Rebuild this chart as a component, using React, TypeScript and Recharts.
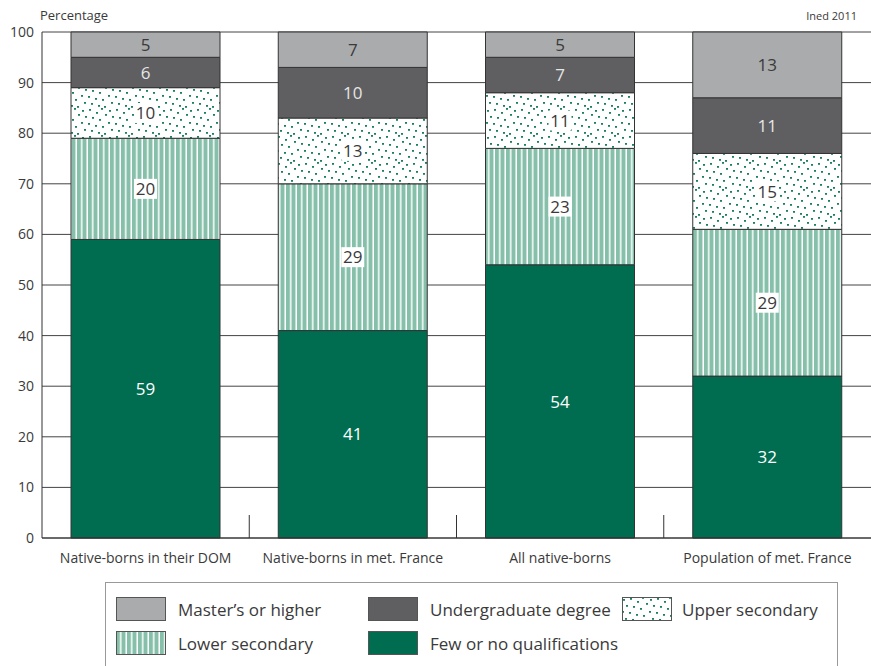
import React from 'react';
import { BarChart, Bar, XAxis, YAxis, CartesianGrid, LabelList } from 'recharts';

const categories = ['Native-borns in their DOM', 'Native-borns in met. France', 'All native-borns', 'Population of met. France'];
const fewOrNone = [59, 41, 54, 32];
const lowerSecondary = [20, 29, 23, 29];
const upperSecondary = [10, 13, 11, 15];
const undergraduate = [6, 10, 7, 11];
const mastersOrHigher = [5, 7, 5, 13];
const yTicks = [0, 10, 20, 30, 40, 50, 60, 70, 80, 90, 100];

const data = categories.map((name, i) => ({
  name,
  few: fewOrNone[i],
  lower: lowerSecondary[i],
  upper: upperSecondary[i],
  undergrad: undergraduate[i],
  masters: mastersOrHigher[i],
}));

const FONT = '"Open Sans", "Noto Sans", sans-serif';
const TEXT = '#3a3a3a';
const TICK_MARGIN = 15;

// stacked bottom -> top
const SERIES = [
  { key: 'few', name: 'Few or no qualifications', fill: '#006d50', labelColor: '#ffffff', labelBg: false },
  { key: 'lower', name: 'Lower secondary', fill: 'url(#stripes)', labelColor: TEXT, labelBg: true },
  { key: 'upper', name: 'Upper secondary', fill: 'url(#dots)', labelColor: TEXT, labelBg: true },
  { key: 'undergrad', name: 'Undergraduate degree', fill: '#5f5f61', labelColor: '#e6e6e6', labelBg: false },
  { key: 'masters', name: "Master\u2019s or higher", fill: '#aaabad', labelColor: TEXT, labelBg: false },
];

const DOTS = [
  [1, 2], [8, 1], [15, 4], [20, 0], [4, 8], [11, 9], [18, 11], [0, 14],
  [7, 15], [14, 17], [21, 18], [3, 21], [10, 22], [17, 24], [24, 6], [23, 25],
];

const Patterns = () => (
  <defs>
    <pattern id="stripes" width="5.5" height="10" patternUnits="userSpaceOnUse">
      <rect width="5.5" height="10" fill="#86bfaa" />
      <rect x="4" width="1.5" height="10" fill="#ffffff" />
    </pattern>
    <pattern id="dots" width="27" height="27" patternUnits="userSpaceOnUse">
      <rect width="27" height="27" fill="#ffffff" />
      {DOTS.map(([x, y], i) => (
        <rect key={i} x={x} y={y} width="2" height="1.8" fill="#1a8060" />
      ))}
    </pattern>
  </defs>
);

const makeLabel = (color: string, bg: boolean) => (props: any) => {
  const { x, y, width, height, value } = props;
  const cx = x + width / 2;
  const cy = y + height / 2;
  const w = String(value).length * 9.5 + 4;
  return (
    <g>
      {bg && <rect x={cx - w / 2} y={cy - 10} width={w} height={20} fill="#ffffff" />}
      <text x={cx} y={cy} dy="0.36em" textAnchor="middle" fill={color} fontSize={17} fontFamily={FONT}>
        {value}
      </text>
    </g>
  );
};

// category label plus a short divider tick at the right edge of each band
const CategoryTick = (props: any) => {
  const { x, y, payload, index } = props;
  const half = payload.offset || 0;
  const axisY = y - TICK_MARGIN;
  return (
    <g>
      {index < categories.length - 1 && half > 0 && (
        <line x1={x + half} x2={x + half} y1={axisY} y2={axisY - 23} stroke="#333" strokeWidth={1} />
      )}
      <text x={x} y={y} dy="0.71em" textAnchor="middle" fill={TEXT} fontSize={14} fontFamily={FONT}>
        {payload.value}
      </text>
    </g>
  );
};

const Swatch = ({ fill }: { fill: string }) => (
  <svg width={50} height={24} style={{ display: 'block' }}>
    <Patterns />
    <rect x={0.5} y={0.5} width={49} height={23} fill={fill} stroke="#555" />
  </svg>
);

const legendPos: Record<string, { left: number; top: number }> = {
  masters: { left: 10, top: 14 },
  undergrad: { left: 262, top: 14 },
  upper: { left: 516, top: 14 },
  lower: { left: 10, top: 48 },
  few: { left: 262, top: 48 },
};

export default function App() {
  return (
    <div style={{ position: 'absolute', left: 0, top: 0, width: 871, height: 666, overflow: 'hidden', background: '#fff', fontFamily: FONT }}>
      <div style={{ position: 'absolute', left: 40, top: 6, fontSize: 13, color: TEXT }}>Percentage</div>
      <div style={{ position: 'absolute', right: 14, top: 8, fontSize: 11, color: TEXT }}>Ined 2011</div>
      <BarChart width={871} height={666} data={data} margin={{ top: 32, right: 0, left: 0, bottom: 88 }} barCategoryGap="14%">
        <Patterns />
        <CartesianGrid vertical={false} stroke="#444" strokeWidth={1} />
        <XAxis
          dataKey="name"
          height={40}
          tickLine={false}
          tickSize={0}
          tickMargin={TICK_MARGIN}
          interval={0}
          axisLine={{ stroke: '#333' }}
          tick={<CategoryTick />}
        />
        <YAxis
          width={42}
          domain={[0, 100]}
          ticks={yTicks}
          interval={0}
          tickLine={false}
          tickSize={0}
          tickMargin={8}
          axisLine={{ stroke: '#333' }}
          tick={{ fill: TEXT, fontSize: 14, fontFamily: FONT }}
        />
        {SERIES.map((s) => (
          <Bar key={s.key} dataKey={s.key} name={s.name} stackId="a" fill={s.fill} stroke="#333" strokeWidth={1} isAnimationActive={false}>
            <LabelList dataKey={s.key} content={makeLabel(s.labelColor, s.labelBg)} />
          </Bar>
        ))}
      </BarChart>
      <div style={{ position: 'absolute', left: 105, top: 582, width: 733, height: 100, border: '1px solid #999', boxSizing: 'border-box' }}>
        {SERIES.map((s) => (
          <div key={s.key} style={{ position: 'absolute', left: legendPos[s.key].left, top: legendPos[s.key].top, display: 'flex', alignItems: 'center' }}>
            <Swatch fill={s.fill} />
            <span style={{ marginLeft: s.key === 'upper' ? 10 : 12, fontSize: 17, color: TEXT }}>{s.name}</span>
          </div>
        ))}
      </div>
    </div>
  );
}
